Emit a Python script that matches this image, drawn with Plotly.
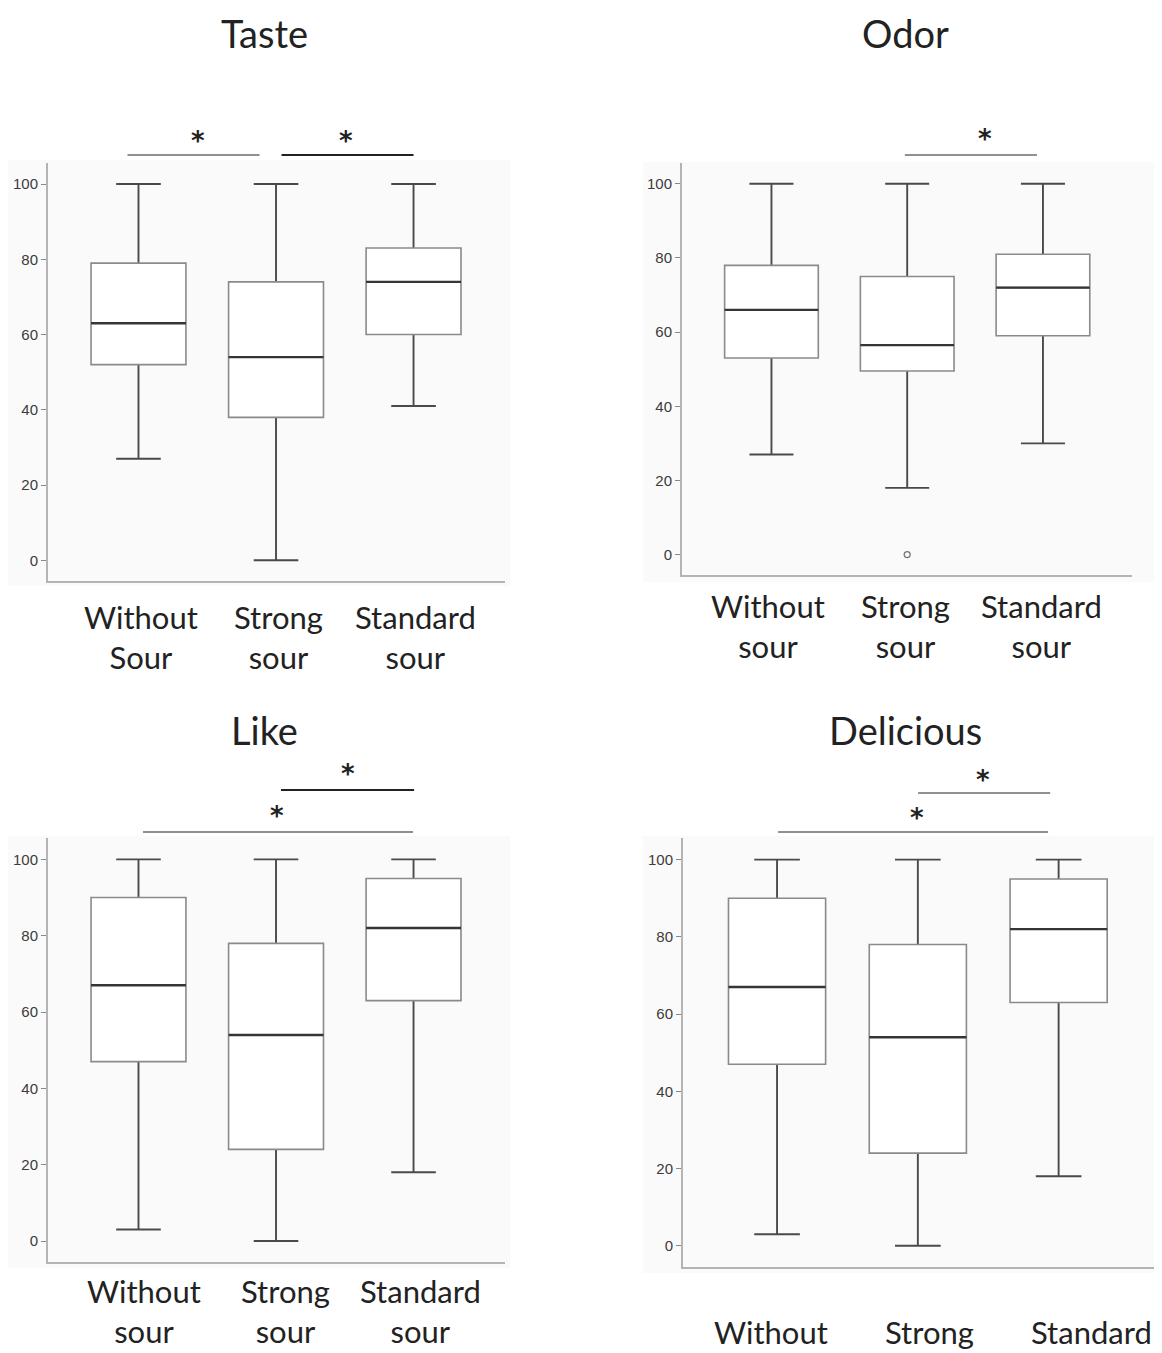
import plotly.graph_objects as go

# The page body has an 8px margin, so the figure is drawn 8px smaller
# and every pixel position below is shifted by that offset.
OFF = 8
W, H = 1162 - OFF, 1353 - OFF

# ---------------- data ----------------
positions = [0, 1, 2]
taste_labels = ["Without<br>Sour", "Strong<br>sour", "Standard<br>sour"]
odor_labels = ["Without<br>sour", "Strong<br>sour", "Standard<br>sour"]
like_labels = ["Without<br>sour", "Strong<br>sour", "Standard<br>sour"]
delicious_labels = ["Without", "Strong", "Standard"]

taste_min = [27, 0, 41]
taste_q1 = [52, 38, 60]
taste_med = [63, 54, 74]
taste_q3 = [79, 74, 83]
taste_max = [100, 100, 100]

odor_min = [27, 18, 30]
odor_q1 = [53, 49.5, 59]
odor_med = [66, 56.5, 72]
odor_q3 = [78, 75, 81]
odor_max = [100, 100, 100]
odor_outlier_x = [1]
odor_outlier_y = [0]

like_min = [3, 0, 18]
like_q1 = [47, 24, 63]
like_med = [67, 54, 82]
like_q3 = [90, 78, 95]
like_max = [100, 100, 100]

delicious_min = [3, 0, 18]
delicious_q1 = [47, 24, 63]
delicious_med = [67, 54, 82]
delicious_q3 = [90, 78, 95]
delicious_max = [100, 100, 100]

y_ticks = [0, 20, 40, 60, 80, 100]

# ---------------- styling / layout ----------------
FONT = "Lato"
BG = "#fafafa"
AXC = "#b4b4b4"


def px_x(p):
    return (p - OFF) / W


def px_y(p):
    return 1 - (p - OFF) / H


panels = [
    dict(name="Taste", ax="", labels=taste_labels,
         stats=(taste_min, taste_q1, taste_med, taste_q3, taste_max),
         xdom=(48, 505), ydom=(163, 581), xr=(-0.658, 2.665),
         bg=(8, 160, 510, 586), title=(264, 33), lab_y=637, lab_shift=[3, 2, 2],
         bars=[((-0.08, 0.88), 155, 1.0, (0.433, 141)), ((1.04, 2.0), 155, 2.0, (1.51, 141))]),
    dict(name="Odor", ax="2", labels=odor_labels,
         stats=(odor_min, odor_q1, odor_med, odor_q3, odor_max),
         xdom=(682, 1132), ydom=(163, 575), xr=(-0.659, 2.656),
         bg=(643, 162, 1160, 582), title=(905, 33), lab_y=626, lab_shift=[-3, -2, -1],
         bars=[((0.983, 1.956), 155, 1.2, (1.575, 139))]),
    dict(name="Like", ax="3", labels=like_labels,
         stats=(like_min, like_q1, like_med, like_q3, like_max),
         xdom=(48, 505), ydom=(838, 1262), xr=(-0.658, 2.665),
         bg=(8, 836, 510, 1268), title=(264, 730), lab_y=1311, lab_shift=[6, 9, 7],
         bars=[((1.036, 2.004), 790, 1.8, (1.524, 774)), ((0.033, 1.996), 832, 1.2, (1.007, 816))]),
    dict(name="Delicious", ax="4", labels=delicious_labels,
         stats=(delicious_min, delicious_q1, delicious_med, delicious_q3, delicious_max),
         xdom=(683, 1160), ydom=(838, 1267), xr=(-0.668, 2.72),
         bg=(643, 836, 1162, 1273), title=(905, 730), lab_y=1332, lab_shift=[-6, 12, 33],
         bars=[((1.002, 1.94), 793, 1.2, (1.464, 780)), ((0.007, 1.925), 832, 1.2, (0.995, 818))]),
]

fig = go.Figure()
shapes = []
annotations = []
layout_axes = {}

for p in panels:
    xa = "x" + p["ax"]
    ya = "y" + p["ax"]
    mn, q1, md, q3, mx = p["stats"]
    # whiskers (dark)
    fig.add_trace(go.Box(x=positions, q1=md, median=md, q3=md, lowerfence=mn, upperfence=mx,
                         width=0.69, whiskerwidth=0.47, boxpoints=False,
                         line=dict(color="#4a4a4a", width=1.9), fillcolor="rgba(0,0,0,0)",
                         xaxis=xa, yaxis=ya, showlegend=False, hoverinfo="skip"))
    # box (light outline)
    fig.add_trace(go.Box(x=positions, q1=q1, median=md, q3=q3, lowerfence=q1, upperfence=q3,
                         width=0.69, whiskerwidth=0, boxpoints=False,
                         line=dict(color="#8a8a8a", width=1.6), fillcolor="white",
                         xaxis=xa, yaxis=ya, showlegend=False, hoverinfo="skip"))
    # median (dark, thicker)
    fig.add_trace(go.Box(x=positions, q1=md, median=md, q3=md, lowerfence=md, upperfence=md,
                         width=0.69, whiskerwidth=0, boxpoints=False,
                         line=dict(color="#353535", width=2.4), fillcolor="rgba(0,0,0,0)",
                         xaxis=xa, yaxis=ya, showlegend=False, hoverinfo="skip"))
    if p["name"] == "Odor":
        fig.add_trace(go.Scatter(x=odor_outlier_x, y=odor_outlier_y, mode="markers",
                                 marker=dict(symbol="circle-open", size=6, color="#777",
                                             line=dict(width=1.3)),
                                 xaxis=xa, yaxis=ya, showlegend=False, hoverinfo="skip"))

    xk = "xaxis" + p["ax"]
    yk = "yaxis" + p["ax"]
    layout_axes[xk] = dict(domain=[px_x(p["xdom"][0]), min(1, px_x(p["xdom"][1]))], range=list(p["xr"]),
                           anchor=ya, showline=True, linecolor=AXC, linewidth=2,
                           showgrid=False, zeroline=False, showticklabels=False, ticks="")
    layout_axes[yk] = dict(domain=[px_y(p["ydom"][1]), px_y(p["ydom"][0])], range=[-5.5, 105.6],
                           anchor=xa, showline=True, linecolor=AXC, linewidth=2,
                           showgrid=False, zeroline=False, tickvals=y_ticks,
                           ticks="outside", ticklen=5, tickcolor="#888", tickwidth=1.2,
                           tickfont=dict(family="Liberation Sans", size=15, color="#3c3c3c"))

    # panel background
    x0, y0, x1, y1 = p["bg"]
    shapes.append(dict(type="rect", xref="paper", yref="paper", layer="below",
                       x0=max(0, px_x(x0)), x1=min(1, px_x(x1)), y0=px_y(y1), y1=px_y(y0),
                       fillcolor=BG, line=dict(width=0)))
    # title
    annotations.append(dict(text=p["name"], xref="paper", yref="paper",
                            x=px_x(p["title"][0]), y=px_y(p["title"][1]),
                            xanchor="center", yanchor="middle", showarrow=False,
                            font=dict(family=FONT, size=38, color="#222")))
    # category labels
    for i, lab in enumerate(p["labels"]):
        annotations.append(dict(text=lab, xref=xa, yref="paper", x=positions[i],
                                xshift=p["lab_shift"][i], y=px_y(p["lab_y"]), xanchor="center",
                                yanchor="middle", showarrow=False, align="center",
                                font=dict(family=FONT, size=31, color="#222")))
    # significance bars
    for (bx0, bx1), by, lw, (sx, sy) in p["bars"]:
        shapes.append(dict(type="line", xref=xa, yref="paper", x0=bx0, x1=bx1,
                           y0=px_y(by), y1=px_y(by), line=dict(color="#222", width=lw)))
        annotations.append(dict(text="<b>*</b>", xref=xa, yref="paper", x=sx, y=px_y(sy),
                                xanchor="center", yanchor="middle", showarrow=False,
                                font=dict(family="DejaVu Sans", size=26, color="#222")))

fig.update_layout(width=W, height=H, margin=dict(l=0, r=0, t=0, b=0),
                  paper_bgcolor="white", plot_bgcolor=BG, boxmode="overlay",
                  shapes=shapes, annotations=annotations, **layout_axes)

fig.write_html("out.html")
